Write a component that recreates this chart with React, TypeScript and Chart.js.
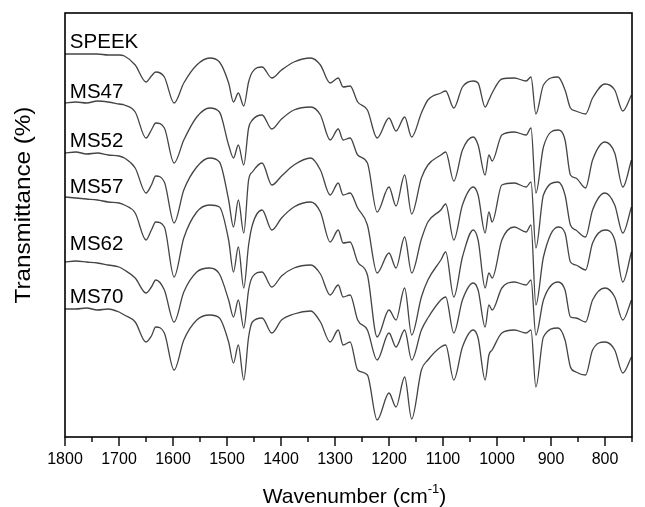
import React, { useEffect, useRef } from "react";
import { Chart, registerables } from "chart.js";

Chart.register(...registerables);

// Wavenumber grid (cm-1)
const wavenumbers = [
  1800, 1780, 1760, 1740, 1720, 1700, 1690, 1670, 1650, 1640,
  1632, 1616, 1598, 1580, 1556, 1532, 1514, 1497, 1488, 1479,
  1469, 1460, 1453, 1435, 1417, 1399, 1376, 1345, 1327, 1309,
  1294, 1285, 1272, 1258, 1240, 1222, 1200, 1187, 1171, 1158,
  1140, 1128, 1104, 1095, 1080, 1064, 1044, 1035, 1022, 1015,
  1009, 991, 968, 946, 937, 928, 914, 887, 874, 864,
  854, 836, 823, 800, 782, 767, 751,
];

// Transmittance (offset, arbitrary units)
const speek = [
  383, 383, 383, 383, 382, 382, 381, 372, 355, 361,
  365, 360, 334, 354, 372, 379, 375, 354, 335, 344,
  331, 355, 365, 370, 359, 367, 375, 379, 372, 354,
  359, 350, 351, 335, 327, 299, 319, 306, 320, 300,
  324, 337, 344, 346, 329, 350, 356, 354, 330, 337,
  344, 358, 359, 356, 360, 323, 352, 360, 347, 329,
  326, 323, 339, 353, 347, 326, 342,
];
const ms47 = [
  334, 335, 334, 336, 335, 333, 332, 325, 299, 307,
  314, 309, 274, 297, 320, 329, 325, 292, 279, 292,
  272, 309, 317, 322, 308, 318, 327, 330, 322, 297,
  308, 297, 299, 282, 274, 225, 250, 231, 262, 223,
  259, 272, 282, 285, 256, 287, 300, 292, 262, 282,
  276, 302, 305, 302, 309, 244, 290, 307, 297, 262,
  259, 249, 277, 295, 284, 250, 277,
];
const ms52 = [
  284, 285, 283, 284, 282, 281, 279, 269, 244, 252,
  261, 255, 214, 247, 270, 279, 275, 237, 210, 237,
  204, 257, 265, 274, 252, 261, 272, 279, 267, 242,
  254, 242, 244, 229, 212, 164, 184, 169, 200, 164,
  198, 215, 227, 233, 197, 232, 250, 242, 204, 225,
  215, 252, 254, 250, 255, 189, 242, 255, 242, 212,
  207, 200, 227, 244, 232, 204, 230,
];
const ms57 = [
  240, 239, 238, 237, 235, 234, 232, 224, 197, 207,
  215, 210, 160, 199, 225, 232, 230, 197, 165, 190,
  149, 192, 212, 227, 207, 219, 230, 235, 225, 195,
  207, 194, 195, 175, 162, 100, 127, 117, 149, 102,
  140, 157, 177, 185, 140, 180, 207, 197, 149, 164,
  159, 197, 210, 205, 212, 132, 180, 210, 204, 175,
  172, 167, 194, 207, 197, 155, 185,
];
const ms62 = [
  175, 176, 175, 174, 172, 170, 167, 159, 144, 150,
  157, 147, 115, 145, 165, 169, 163, 137, 120, 137,
  109, 147, 160, 165, 150, 161, 169, 172, 163, 142,
  152, 140, 142, 117, 107, 77, 104, 90, 107, 77,
  107, 119, 137, 140, 104, 137, 154, 147, 110, 132,
  127, 149, 155, 152, 157, 102, 137, 155, 147, 120,
  119, 115, 137, 149, 140, 117, 137,
];
const ms70 = [
  128, 128, 129, 127, 128, 125, 122, 115, 95, 101,
  110, 104, 67, 97, 117, 122, 119, 95, 74, 92,
  57, 100, 115, 119, 104, 117, 123, 126, 115, 95,
  107, 92, 95, 67, 62, 17, 44, 30, 60, 18,
  67, 77, 90, 92, 57, 90, 107, 99, 57, 82,
  87, 104, 107, 104, 107, 50, 100, 109, 97, 70,
  65, 62, 87, 95, 87, 64, 80,
];

const seriesNames = ["SPEEK", "MS47", "MS52", "MS57", "MS62", "MS70"];
const seriesValues = [speek, ms47, ms52, ms57, ms62, ms70];
// label anchors (text baseline level, in the same units as the series)
const labelLevels = [389, 339, 290, 244, 187, 134];
const labelWavenumber = 1791;

const X_MIN = 750;
const X_MAX = 1800;
const X_STEP = 50;
const Y_MIN = 0;
const Y_MAX = 424;

const FONT = '"Liberation Sans", Arial, Helvetica, sans-serif';

const decorPlugin = {
  id: "decor",
  afterDraw(chart: any) {
    const { ctx, chartArea: a, scales } = chart;
    const x = scales.x;
    const y = scales.y;
    ctx.save();
    // frame
    ctx.strokeStyle = "#000";
    ctx.lineWidth = 1.6;
    ctx.strokeRect(a.left, a.top, a.right - a.left, a.bottom - a.top);
    // bottom ticks (outward)
    ctx.lineWidth = 1.4;
    x.ticks.forEach((t: any) => {
      const px = x.getPixelForValue(t.value);
      const len = t.value % 100 === 0 ? 9 : 5;
      ctx.beginPath();
      ctx.moveTo(px, a.bottom);
      ctx.lineTo(px, a.bottom + len);
      ctx.stroke();
    });
    // series labels
    ctx.fillStyle = "#000";
    ctx.font = `20.5px ${FONT}`;
    ctx.textBaseline = "alphabetic";
    ctx.textAlign = "left";
    seriesNames.forEach((name, i) => {
      ctx.fillText(name, x.getPixelForValue(labelWavenumber), y.getPixelForValue(labelLevels[i]));
    });
    // x title with superscript
    const cx = (a.left + a.right) / 2 + 6;
    const base = 503;
    const t1 = "Wavenumber (cm";
    const sup = "-1";
    const t2 = ")";
    ctx.font = `21px ${FONT}`;
    const w1 = ctx.measureText(t1).width;
    const w3 = ctx.measureText(t2).width;
    ctx.font = `13px ${FONT}`;
    const w2 = ctx.measureText(sup).width;
    let sx = cx - (w1 + w2 + w3) / 2;
    ctx.font = `21px ${FONT}`;
    ctx.fillText(t1, sx, base);
    sx += w1;
    ctx.font = `13px ${FONT}`;
    ctx.fillText(sup, sx, base - 10);
    sx += w2;
    ctx.font = `21px ${FONT}`;
    ctx.fillText(t2, sx, base);
    // y title
    ctx.save();
    ctx.translate(30, 205);
    ctx.rotate(-Math.PI / 2);
    ctx.scale(1.1, 1);
    ctx.font = `22px ${FONT}`;
    ctx.textAlign = "center";
    ctx.textBaseline = "alphabetic";
    ctx.fillText("Transmittance (%)", 0, 0);
    ctx.restore();
    ctx.restore();
  },
};

export default function App() {
  const ref = useRef<HTMLCanvasElement | null>(null);
  useEffect(() => {
    document.body.style.margin = "0";
    const canvas = ref.current;
    if (!canvas) return;
    const chart = new Chart(canvas, {
      type: "line",
      data: {
        datasets: seriesValues.map((vals, si) => ({
          label: seriesNames[si],
          data: wavenumbers.map((w, i) => ({ x: w, y: vals[i] })),
          borderColor: "#444444",
          borderWidth: 1.3,
          pointRadius: 0,
          fill: false,
          cubicInterpolationMode: "monotone" as const,
        })),
      },
      options: {
        responsive: false,
        animation: false,
        devicePixelRatio: 1,
        layout: { padding: { top: 13, right: 1, left: 0, bottom: 0 } },
        plugins: { legend: { display: false }, tooltip: { enabled: false } },
        scales: {
          x: {
            type: "linear",
            reverse: true,
            min: X_MIN,
            max: X_MAX,
            grid: { display: false, drawTicks: false },
            border: { display: false },
            ticks: {
              stepSize: X_STEP,
              autoSkip: false,
              maxRotation: 0,
              padding: 13,
              color: "#000",
              font: { family: FONT, size: 16 },
              callback: (v: any) => (Number(v) % 100 === 0 ? String(v) : ""),
            },
            afterFit: (s: any) => {
              s.height = 70;
            },
          },
          y: {
            min: Y_MIN,
            max: Y_MAX,
            grid: { display: false },
            border: { display: false },
            ticks: { display: false },
            afterFit: (s: any) => {
              s.width = 65;
            },
          },
        },
      },
      plugins: [decorPlugin],
    });
    return () => chart.destroy();
  }, []);
  return <canvas ref={ref} width={645} height={507} style={{ display: "block" }} />;
}
